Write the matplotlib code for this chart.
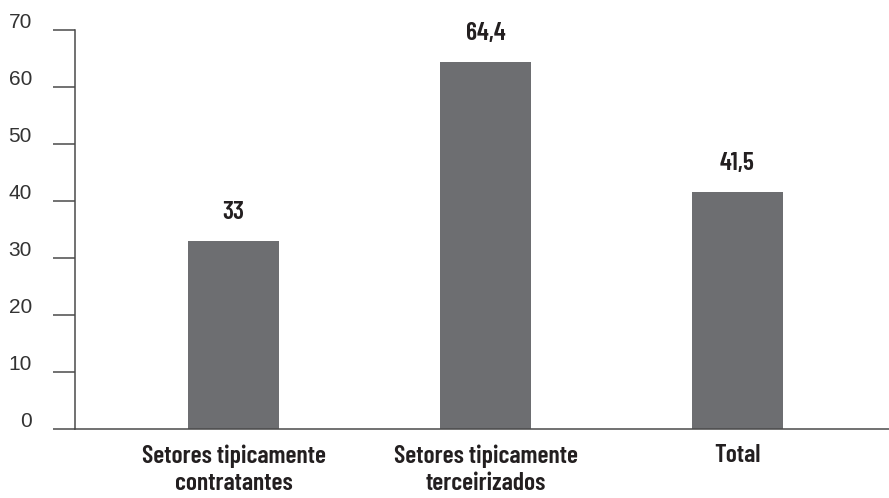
import matplotlib
matplotlib.use('Agg')
import matplotlib.pyplot as plt
from matplotlib.transforms import ScaledTranslation
import numpy as np

# dados
CATEGORIAS = ["Setores tipicamente\ncontratantes", "Setores tipicamente\nterceirizados", "Total"]
VALORES = [33, 64.4, 41.5]
ROTULOS = ["33", "64,4", "41,5"]
Y_TICKS = [0, 10, 20, 30, 40, 50, 60, 70]

COR_BARRA = "#6d6e71"
COR_EIXO = "#4a4a4a"
COR_TEXTO = "#231f20"
FONTE_COND = "Barlow Condensed"

fig = plt.figure(figsize=(8.89, 4.98), dpi=100, facecolor="white")
ax = fig.add_axes([75 / 889, 69 / 498, 1 - 75 / 889, 399 / 498])

x = np.arange(len(CATEGORIAS))
barras = ax.bar(x, VALORES, width=0.361, color=COR_BARRA, zorder=2)

# rótulos de valor acima de cada barra
for barra, rot in zip(barras, ROTULOS):
    ax.annotate(rot, xy=(barra.get_x() + barra.get_width() / 2, barra.get_height()),
                xytext=(0, 16), textcoords="offset points",
                ha="center", va="baseline", fontsize=18.5, fontweight=600,
                family=FONTE_COND, color=COR_TEXTO)

ax.set_xlim(-0.629, 2.601)
ax.set_ylim(0, 70)
ax.set_xticks(x)
ax.set_xticklabels(CATEGORIAS, fontsize=18.5, fontweight=600, family=FONTE_COND,
                   color=COR_TEXTO, linespacing=1.25)
ax.tick_params(axis="x", length=0, pad=11)

ax.set_yticks(Y_TICKS)
ax.set_yticklabels([str(v) for v in Y_TICKS], fontsize=15, family="Liberation Sans",
                   color="#333333")
ax.tick_params(axis="y", length=16, width=1.1, color=COR_EIXO, pad=15)
# números do eixo y levemente acima das marcas
desloc = ScaledTranslation(0, 0.1, fig.dpi_scale_trans)
for lab in ax.get_yticklabels():
    lab.set_transform(lab.get_transform() + desloc)

for lado in ["top", "right"]:
    ax.spines[lado].set_visible(False)
for lado in ["left", "bottom"]:
    ax.spines[lado].set_color(COR_EIXO)
    ax.spines[lado].set_linewidth(1.1)

fig.savefig("out.png", dpi=100, facecolor="white")
